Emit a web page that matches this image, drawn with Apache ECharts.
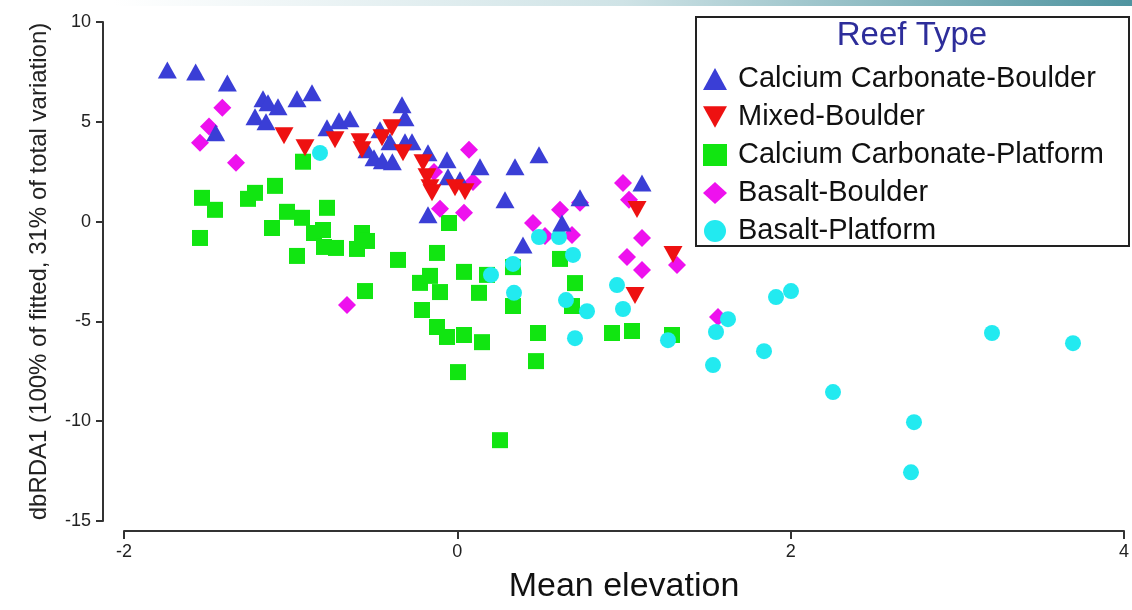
<!DOCTYPE html>
<html>
<head>
<meta charset="utf-8">
<script src="https://cdn.jsdelivr.net/npm/echarts@6/dist/echarts.min.js"></script>
<style>
html,body{margin:0;padding:0;background:#fff;}
#chart{width:1132px;height:610px;}
</style>
</head>
<body>
<div id="chart"></div>
<script>
var seriesNames = ['Calcium Carbonate-Boulder','Mixed-Boulder','Calcium Carbonate-Platform','Basalt-Boulder','Basalt-Platform'];
var xTicks = [-2, 0, 2, 4];
var yTicks = [-15, -10, -5, 0, 5, 10];

var ccBoulder = [
  [-1.74,7.6],[-1.57,7.5],[-1.38,6.95],[-1.45,4.45],
  [-1.166,6.16],[-1.136,5.96],[-1.076,5.75],[-1.214,5.25],[-1.148,5.0],
  [-0.962,6.16],[-0.872,6.46],[-0.782,4.7],[-0.71,5.05],[-0.644,5.15],
  [-0.332,5.85],[-0.314,5.2],[-0.464,4.6],[-0.404,4.0],[-0.314,4.0],[-0.272,4.0],
  [-0.542,3.6],[-0.5,3.2],[-0.45,3.05],[-0.39,3.0],
  [-0.176,3.45],[-0.062,3.1],[-0.056,2.25],[0.016,2.1],[0.136,2.75],[0.346,2.75],
  [0.49,3.35],[0.286,1.09],[-0.176,0.34],[0.628,-0.07],[0.736,1.19],[1.108,1.94],[0.394,-1.17]
];
var mixedBoulder = [
  [-1.04,4.3],[-0.914,3.7],[-0.734,4.1],[-0.584,4.0],[-0.572,3.6],[-0.452,4.2],[-0.392,4.7],
  [-0.326,3.45],[-0.206,2.95],[-0.182,2.25],[-0.164,1.7],[-0.152,1.45],[-0.014,1.7],[0.046,1.5],
  [1.078,0.6],[1.066,-3.7],[1.294,-1.65]
];
var ccPlatform = [
  [-0.926,3.0],[-1.532,1.19],[-1.454,0.59],[-1.544,-0.82],[-1.256,1.14],[-1.214,1.44],[-1.094,1.79],
  [-1.022,0.49],[-0.932,0.19],[-1.112,-0.32],[-0.782,0.69],[-0.86,-0.57],[-0.806,-0.42],[-0.8,-1.27],
  [-0.728,-1.32],[-0.962,-1.72],[-0.602,-1.37],[-0.572,-0.57],[-0.542,-0.97],[-0.356,-1.92],
  [-0.122,-1.57],[-0.05,-0.07],[0.04,-2.52],[-0.224,-3.07],[-0.164,-2.72],[-0.104,-3.53],[-0.554,-3.48],
  [-0.212,-4.43],[-0.122,-5.28],[-0.062,-5.78],[0.04,-5.68],[0.004,-7.54],[0.178,-2.67],[0.13,-3.57],
  [0.334,-2.28],[0.334,-4.23],[0.148,-6.04],[0.484,-5.58],[0.472,-6.99],[0.256,-10.95],[0.616,-1.87],
  [0.706,-3.08],[0.688,-4.23],[0.928,-5.58],[1.048,-5.48],[1.288,-5.68]
];
var basaltBoulder = [
  [-1.41,5.7],[-1.49,4.76],[-1.544,3.95],[-1.328,2.95],[-0.662,-4.18],[0.07,3.6],[-0.14,2.49],
  [0.094,1.99],[-0.104,0.64],[0.04,0.44],[0.454,-0.07],[0.526,-0.72],[0.616,0.59],[0.688,-0.67],
  [0.736,0.94],[0.994,1.94],[1.03,1.09],[1.108,-0.82],[1.018,-1.77],[1.108,-2.42],[1.318,-2.17],[1.564,-4.78]
];
var basaltPlatform = [
  [-0.824,3.44],[0.202,-2.67],[0.334,-2.12],[0.34,-3.57],[0.49,-0.77],[0.61,-0.77],[0.694,-1.67],
  [0.652,-3.93],[0.778,-4.49],[0.958,-3.18],[0.994,-4.38],[0.706,-5.84],[1.264,-5.94],[1.552,-5.53],
  [1.624,-4.89],[1.534,-7.19],[1.912,-3.78],[2.002,-3.48],[1.84,-6.49],[2.254,-8.54],[2.74,-10.05],
  [2.722,-12.56],[3.208,-5.58],[3.694,-6.09]
];

var font = '"Liberation Sans", Arial, sans-serif';
var chart = echarts.init(document.getElementById('chart'));
var downTri = 'path://M0,0 L10,0 L5,9 Z';

chart.setOption({
  animation: false,
  backgroundColor: '#ffffff',
  grid: {left: 124, right: 8, top: 22, bottom: 89, containLabel: false},
  xAxis: {
    type: 'value', min: xTicks[0], max: xTicks[xTicks.length-1], interval: 2,
    offset: 10,
    name: 'Mean elevation', nameLocation: 'middle', nameGap: 39,
    nameTextStyle: {fontFamily: font, fontSize: 34, color: '#111'},
    axisLine: {onZero: false, lineStyle: {color: '#333', width: 2}},
    axisTick: {length: 8, lineStyle: {color: '#333', width: 2}},
    axisLabel: {fontFamily: font, fontSize: 18, color: '#222', margin: 12},
    splitLine: {show: false}
  },
  yAxis: {
    type: 'value', min: yTicks[0], max: yTicks[yTicks.length-1], interval: 5,
    offset: 21,
    name: 'dbRDA1 (100% of fitted, 31% of total variation)', nameLocation: 'middle', nameGap: 52,
    nameTextStyle: {fontFamily: font, fontSize: 24, color: '#222'},
    axisLine: {onZero: false, lineStyle: {color: '#333', width: 2}},
    axisTick: {length: 7, lineStyle: {color: '#333', width: 2}},
    axisLabel: {fontFamily: font, fontSize: 18, color: '#222', margin: 12},
    splitLine: {show: false}
  },
  legend: {
    orient: 'vertical', left: 698, top: 59,
    itemWidth: 24, itemHeight: 22, itemGap: 8,
    textStyle: {fontFamily: font, fontSize: 29, lineHeight: 30, color: '#111', padding: [0,0,0,6]},
    data: seriesNames.map(function(n){return {name: n};})
  },
  graphic: [
    {type: 'rect', left: 0, top: 0, shape: {width: 1132, height: 6}, z: 0,
     style: {fill: new echarts.graphic.LinearGradient(0,0,1,0,[
       {offset: 0, color: '#ffffff'}, {offset: 0.1, color: '#ffffff'},
       {offset: 0.55, color: '#cfe3e6'}, {offset: 1, color: '#4f94a0'}])}},
    {type: 'rect', left: 695, top: 16, shape: {width: 433, height: 229}, z: 1,
     style: {fill: '#ffffff', stroke: '#222', lineWidth: 2}},
    {type: 'text', x: 912, y: 19, z: 2,
     style: {text: 'Reef Type', fontFamily: font, fontSize: 33, fill: '#2d2d9a', textAlign: 'center', textVerticalAlign: 'top'}}
  ],
  series: [
    {name: seriesNames[0], type: 'scatter', data: ccBoulder, symbol: 'triangle', symbolSize: [19,17],
     itemStyle: {color: '#3a3ed6', opacity: 1}, z: 5},
    {name: seriesNames[1], type: 'scatter', data: mixedBoulder, symbol: downTri, symbolSize: [19,17],
     itemStyle: {color: '#ee1111', opacity: 1}, z: 6},
    {name: seriesNames[2], type: 'scatter', data: ccPlatform, symbol: 'rect', symbolSize: 16,
     itemStyle: {color: '#11e511', opacity: 1}, z: 3},
    {name: seriesNames[3], type: 'scatter', data: basaltBoulder, symbol: 'diamond', symbolSize: 18,
     itemStyle: {color: '#ee11ee', opacity: 1}, z: 4},
    {name: seriesNames[4], type: 'scatter', data: basaltPlatform, symbol: 'circle', symbolSize: 16,
     itemStyle: {color: '#22eaf0', opacity: 1}, z: 4}
  ]
});
</script>
</body>
</html>
